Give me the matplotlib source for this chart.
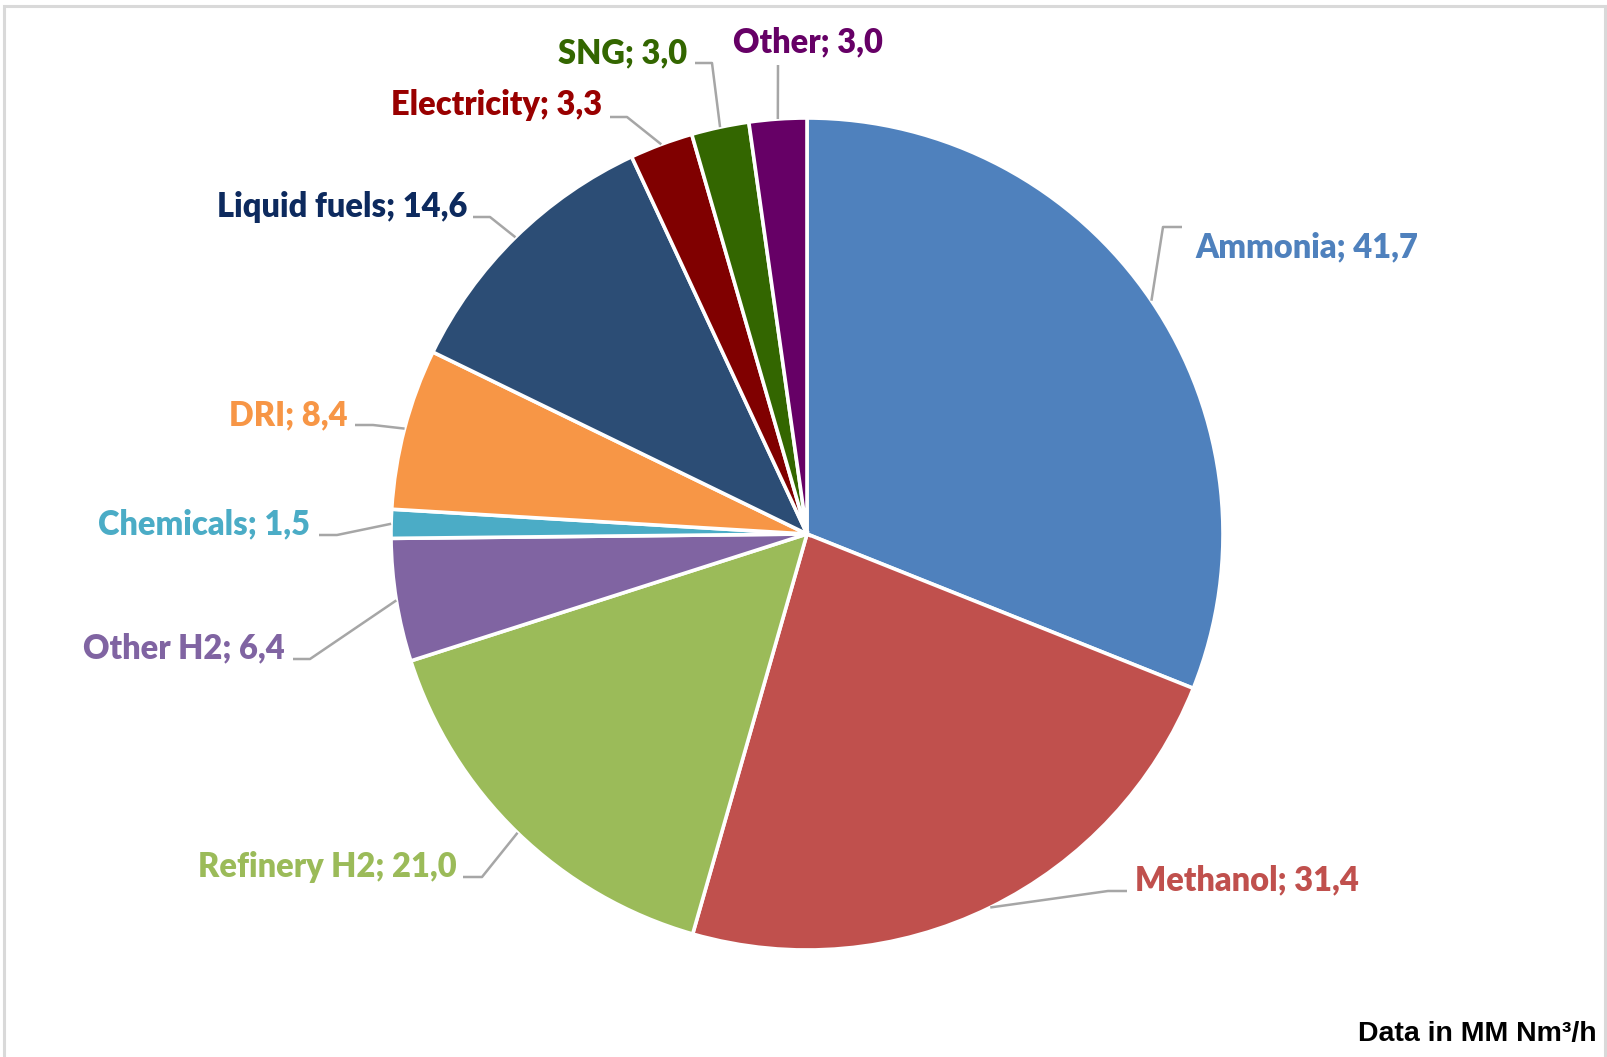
import numpy as np
import matplotlib
matplotlib.use("Agg")
import matplotlib.pyplot as plt
from matplotlib.patches import Rectangle

# ---- data ----
categories = ["Ammonia", "Methanol", "Refinery H2", "Other H2", "Chemicals",
              "DRI", "Liquid fuels", "Electricity", "SNG", "Other"]
values = [41.7, 31.4, 21.0, 6.4, 1.5, 8.4, 14.6, 3.3, 3.0, 3.0]
wedge_colors = ["#4F81BD", "#C0504D", "#9BBB59", "#8064A2", "#4BACC6",
                "#F79646", "#2C4D75", "#800000", "#336600", "#660066"]
label_colors = ["#4F81BD", "#C0504D", "#9BBB59", "#8064A2", "#4BACC6",
                "#F79646", "#0D2A5E", "#990000", "#336600", "#660066"]
note_text = "Data in MM Nm³/h"

# ---- layout (pixel coords, y from top) ----
W, H = 1608, 1057
cx, cy, R = 807, 534, 416
elbows = [(1163, 227), (1108, 891), (482, 877), (310, 659), (337, 535),
          (373, 425), (490, 217), (627, 117), (712, 63), (778, 65)]
ends = [(1182, 227), (1127, 891), (463, 877), (293, 659), (319, 535),
        (355, 425), (473, 217), (610, 117), (695, 63), (778, 65)]
label_pos = [(1195, 247), (1135, 880), (457, 867), (285, 648), (310, 524),
             (348, 415), (467, 207), (602, 105), (687, 53), (808, 42)]
label_ha = ["left", "left", "right", "right", "right",
            "right", "right", "right", "right", "center"]

fig = plt.figure(figsize=(W / 100, H / 100), dpi=100)
ax = fig.add_axes([0, 0, 1, 1])

def Y(y):
    return H - y

wedges, _ = ax.pie(values, colors=wedge_colors, startangle=90, counterclock=False,
                   center=(cx, Y(cy)), radius=R,
                   wedgeprops=dict(edgecolor="white", linewidth=2.6))
ax.set_xlim(0, W)
ax.set_ylim(0, H)
ax.set_aspect("equal")
ax.axis("off")

total = sum(values)
cum = np.cumsum([0] + values)
for i, (cat, v) in enumerate(zip(categories, values)):
    mid = 90 - (cum[i] + v / 2) / total * 360
    sx = cx + R * np.cos(np.radians(mid))
    sy = Y(cy) + R * np.sin(np.radians(mid))
    ex, ey = elbows[i]
    fx, fy = ends[i]
    ax.plot([sx, ex, fx], [sy, Y(ey), Y(fy)], color="#A6A6A6", lw=1.8,
            solid_capstyle="butt", zorder=1)
    lx, ly = label_pos[i]
    ax.text(lx, Y(ly), f"{cat}; {v:.1f}".replace(".", ","), color=label_colors[i],
            fontsize=23.5, fontweight="heavy", family="Lato",
            ha=label_ha[i], va="center")

ax.text(1597, Y(1034), note_text, ha="right", va="center", fontsize=20.5,
        fontweight="bold", family="Liberation Sans")

fig.patches.append(Rectangle((4 / W, -0.01), (W - 7) / W, 1 - 6 / H + 0.01,
                             transform=fig.transFigure, fill=False,
                             edgecolor="#D9D9D9", linewidth=2.2))

fig.savefig("out.png", dpi=100, facecolor="white")
